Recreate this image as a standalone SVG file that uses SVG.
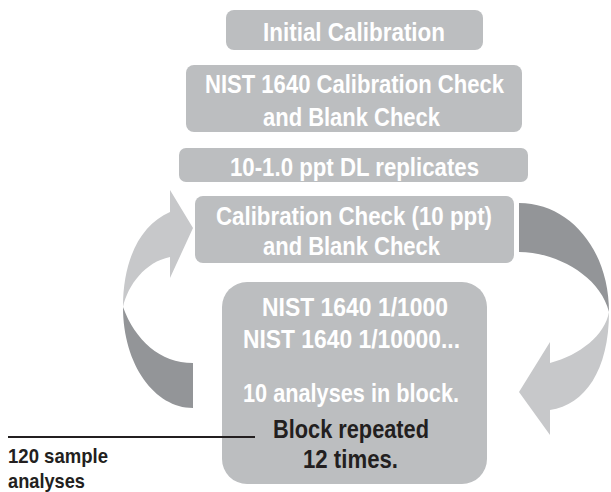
<svg xmlns="http://www.w3.org/2000/svg" width="611" height="492" viewBox="0 0 611 492">
<style>
.box{fill:#bcbec0}
.t{font-family:"Liberation Sans",Arial,sans-serif;font-weight:bold;font-size:25px;fill:#ffffff}
.d{fill:#231f20}
.s{font-size:21px}
.light{fill:#c7c8ca}
.dark{fill:#939598}
</style>
<rect width="611" height="492" fill="#ffffff"/>
<g id="connectors">
<path class="light" d="M123,307 C128,285 145,262 170,257 L170,278 L193,228 L170,190 L170,212 C140,225 123,260 123,307 Z"/>
<path class="dark" d="M123,307 C135,340 160,363 193,363 L193,408 C155,408 123,365 123,307 Z"/>
<path class="dark" d="M519,203 C570,203 609,250 609,312 C600,275 555,252 519,252 Z"/>
<path class="light" d="M609,312 C609,370 585,405 550,410 L550,435 L519,392 L550,342 L550,363 C580,355 605,335 609,312 Z"/>
</g>
<g id="node-initial">
<rect class="box" x="226" y="10" width="257" height="40" rx="8"/>
<text class="t" x="263" y="41" textLength="182" lengthAdjust="spacingAndGlyphs">Initial Calibration</text>
</g>
<g id="node-nist-check">
<rect class="box" x="186" y="65" width="336" height="67" rx="8"/>
<text class="t" x="205" y="93" textLength="299" lengthAdjust="spacingAndGlyphs">NIST 1640 Calibration Check</text>
<text class="t" x="263" y="126" textLength="177" lengthAdjust="spacingAndGlyphs">and Blank Check</text>
</g>
<g id="node-dl">
<rect class="box" x="179" y="148" width="349" height="34" rx="7"/>
<text class="t" x="230" y="176" textLength="249" lengthAdjust="spacingAndGlyphs">10-1.0 ppt DL replicates</text>
</g>
<g id="node-cal-check">
<rect class="box" x="195" y="196" width="319" height="67" rx="8"/>
<text class="t" x="216" y="225" textLength="276" lengthAdjust="spacingAndGlyphs">Calibration Check (10 ppt)</text>
<text class="t" x="263" y="255" textLength="177" lengthAdjust="spacingAndGlyphs">and Blank Check</text>
</g>
<g id="node-block">
<rect class="box" x="222" y="282" width="265" height="202" rx="25"/>
<text class="t" x="262" y="316" textLength="186" lengthAdjust="spacingAndGlyphs">NIST 1640 1/1000</text>
<text class="t" x="243" y="348" textLength="217" lengthAdjust="spacingAndGlyphs">NIST 1640 1/10000...</text>
<text class="t" x="243" y="402" textLength="216" lengthAdjust="spacingAndGlyphs">10 analyses in block.</text>
<text class="t d" x="273" y="438" textLength="156" lengthAdjust="spacingAndGlyphs">Block repeated</text>
<text class="t d" x="303" y="468" textLength="95" lengthAdjust="spacingAndGlyphs">12 times.</text>
</g>
<g id="leader">
<line x1="8" y1="437" x2="255" y2="437" stroke="#231f20" stroke-width="2"/>
</g>
<g id="label-samples">
<text class="t d s" x="8" y="463" textLength="100" lengthAdjust="spacingAndGlyphs">120 sample</text>
<text class="t d s" x="8" y="488" textLength="77" lengthAdjust="spacingAndGlyphs">analyses</text>
</g>
</svg>
